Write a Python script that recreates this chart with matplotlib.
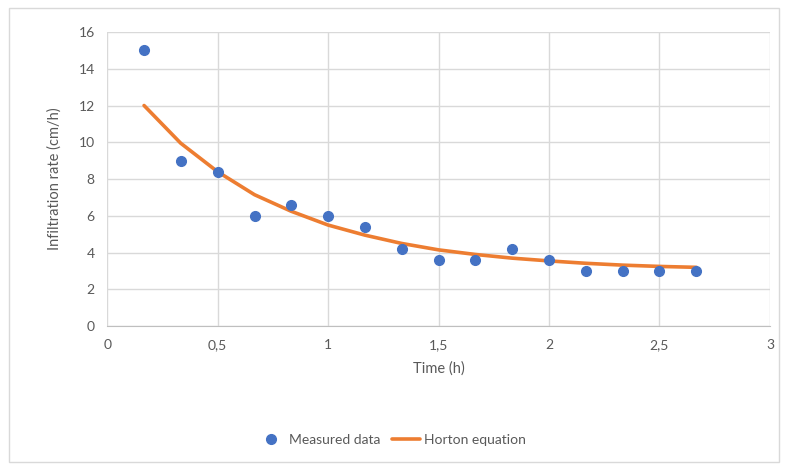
import matplotlib.pyplot as plt
from matplotlib.patches import Rectangle
from matplotlib.ticker import FuncFormatter

# Measured infiltration (every 10 min) and the fitted Horton curve.
time_h = [0.167, 0.333, 0.5, 0.667, 0.833, 1.0, 1.167, 1.333,
          1.5, 1.667, 1.833, 2.0, 2.167, 2.333, 2.5, 2.667]
measured = [15, 9, 8.4, 6, 6.6, 6, 5.4, 4.2,
            3.6, 3.6, 4.2, 3.6, 3, 3, 3, 3]
horton = [12.0, 9.95, 8.4, 7.15, 6.25, 5.5, 4.95, 4.5,
          4.15, 3.9, 3.7, 3.55, 3.42, 3.32, 3.25, 3.2]

x_ticks = [0, 0.5, 1, 1.5, 2, 2.5, 3]
y_ticks = [0, 2, 4, 6, 8, 10, 12, 14, 16]

plt.rcParams['font.family'] = ['Lato', 'DejaVu Sans']
grey = '#595959'

fig = plt.figure(figsize=(7.88, 4.70), dpi=100)
ax = fig.add_axes([0.136, 0.306, 0.841, 0.626])

ax.plot(time_h, horton, color='#ED7D31', lw=2.6, solid_capstyle='round',
        label='Horton equation', zorder=2)
ax.plot(time_h, measured, 'o', color='#4472C4', ms=7, label='Measured data',
        zorder=3)

ax.set_xlim(0, 3)
ax.set_ylim(0, 16)
ax.set_xticks(x_ticks)
ax.set_yticks(y_ticks)
ax.xaxis.set_major_formatter(FuncFormatter(lambda v, p: ('%g' % v).replace('.', ',')))
ax.grid(True, color='#D9D9D9', lw=1)
ax.set_axisbelow(True)
for side in ['top', 'right', 'left']:
  ax.spines[side].set_visible(False)
ax.spines['bottom'].set_color('#BFBFBF')
ax.tick_params(length=0, labelsize=10, colors=grey, pad=9)

ax.set_xlabel('Time (h)', fontsize=10.5, color=grey, labelpad=8)
ax.set_ylabel('Infiltration rate (cm/h)', fontsize=10.5, color=grey, labelpad=12)

handles, labels = ax.get_legend_handles_labels()
fig.legend(handles[::-1], labels[::-1], loc='center', bbox_to_anchor=(0.497, 0.064),
           ncol=2, frameon=False, fontsize=10, labelcolor=grey,
           handlelength=2.0, columnspacing=0.8, handletextpad=0.3)

# Outer chart border.
fig.patches.append(Rectangle((0.011, 0.017), 0.978, 0.966, transform=fig.transFigure,
                             fill=False, edgecolor='#D9D9D9', lw=1))

fig.savefig('out.png', dpi=100)
